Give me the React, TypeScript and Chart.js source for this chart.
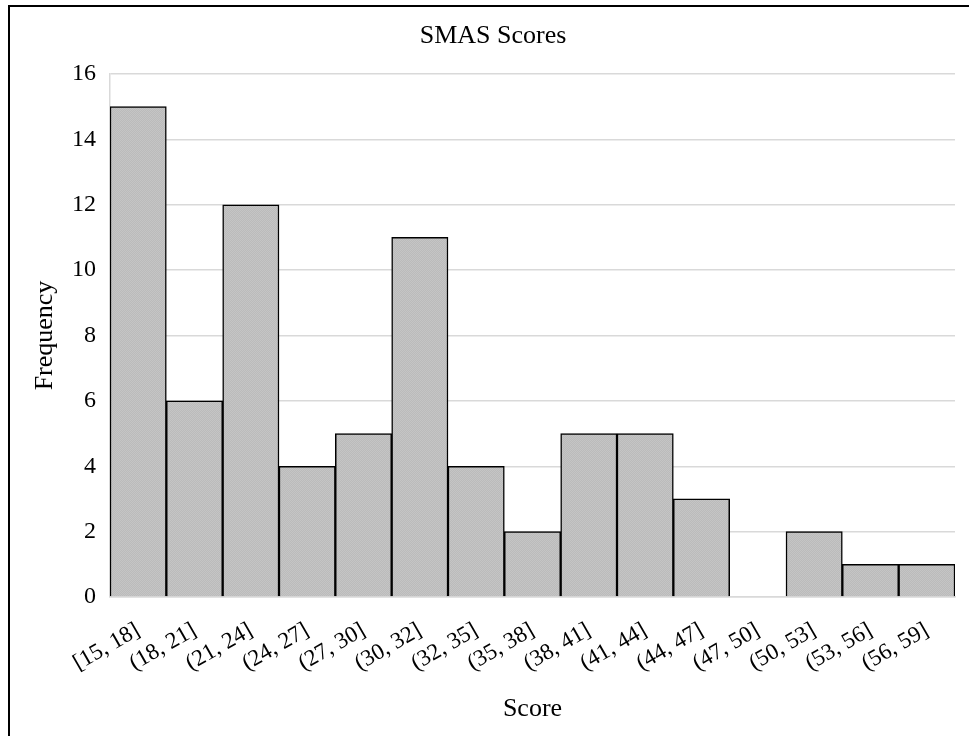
import React, { useEffect, useRef } from "react";
import { Chart, registerables } from "chart.js";

Chart.register(...registerables);

const categories = [
  "[15, 18]", "(18, 21]", "(21, 24]", "(24, 27]", "(27, 30]", "(30, 32]", "(32, 35]",
  "(35, 38]", "(38, 41]", "(41, 44]", "(44, 47]", "(47, 50]", "(50, 53]", "(53, 56]", "(56, 59]",
];
const frequencies = [15, 6, 12, 4, 5, 11, 4, 2, 5, 5, 3, 0, 2, 1, 1];
const chartTitle = "SMAS Scores";
const xTitle = "Score";
const yTitle = "Frequency";
const yMin = 0;
const yMax = 16;
const yStep = 2;

const FONT = "'Liberation Serif', 'Times New Roman', serif";

function makePattern(): CanvasPattern | string {
  const c = document.createElement("canvas");
  c.width = 2;
  c.height = 2;
  const g = c.getContext("2d");
  if (!g) return "#c0c0c0";
  g.fillStyle = "#c5c5c5";
  g.fillRect(0, 0, 2, 2);
  g.fillStyle = "#bbbbbb";
  g.fillRect(0, 0, 1, 1);
  g.fillRect(1, 1, 1, 1);
  const p = g.createPattern(c, "repeat");
  return p || "#c0c0c0";
}

export default function App() {
  const ref = useRef<HTMLCanvasElement>(null);

  useEffect(() => {
    document.documentElement.style.overflow = "hidden";
    const canvas = ref.current;
    if (!canvas) return;
    const chart = new Chart(canvas, {
      type: "bar",
      data: {
        labels: categories,
        datasets: [
          {
            data: frequencies,
            backgroundColor: makePattern() as any,
            borderColor: "#000",
            borderWidth: 1.5,
            categoryPercentage: 1,
            barPercentage: 1,
          },
        ],
      },
      options: {
        responsive: false,
        animation: false,
        layout: { padding: 0 },
        plugins: {
          legend: { display: false },
          tooltip: { enabled: false },
          title: {
            display: true,
            text: chartTitle,
            color: "#000",
            font: { family: FONT, size: 26, weight: "normal", lineHeight: 1.2 },
            padding: { top: 13.4, bottom: 22.4 },
          },
        },
        scales: {
          x: {
            grid: { display: false, drawTicks: false, tickLength: 0 },
            border: { display: true, color: "#d9d9d9", width: 1.5 },
            ticks: {
              color: "#000",
              font: { family: FONT, size: 23 },
              minRotation: 30,
              maxRotation: 30,
              padding: 20,
              autoSkip: false,
            },
            title: {
              display: true,
              text: xTitle,
              color: "#000",
              font: { family: FONT, size: 26, lineHeight: 1.2 },
              padding: { top: 0, bottom: 13.4 },
            },
            afterFit: (s: any) => {
              s.height = 141;
            },
          },
          y: {
            min: yMin,
            max: yMax,
            grid: { color: "#d9d9d9", lineWidth: 1.5, drawTicks: false, tickLength: 0 },
            border: { display: true, color: "#d9d9d9", width: 1.5 },
            ticks: {
              stepSize: yStep,
              color: "#000",
              font: { family: FONT, size: 24 },
              padding: 14,
            },
            title: {
              display: true,
              text: yTitle,
              color: "#000",
              font: { family: FONT, size: 26, lineHeight: 1.2 },
              padding: { top: 20, bottom: 0 },
            },
            afterFit: (s: any) => {
              s.width = 100;
            },
          },
          yRight: {
            type: "linear",
            position: "right",
            grid: { display: false, drawTicks: false },
            border: { display: false },
            ticks: { display: false },
            afterFit: (s: any) => {
              s.width = 21;
            },
          },
        },
      },
    });
    return () => chart.destroy();
  }, []);

  return (
    <div
      style={{
        position: "absolute",
        left: 8,
        top: 5,
        width: 980,
        height: 740,
        border: "2px solid #000",
        boxSizing: "border-box",
        background: "#fff",
        overflow: "hidden",
      }}
    >
      <canvas ref={ref} width={966} height={731} style={{ display: "block" }} />
    </div>
  );
}
